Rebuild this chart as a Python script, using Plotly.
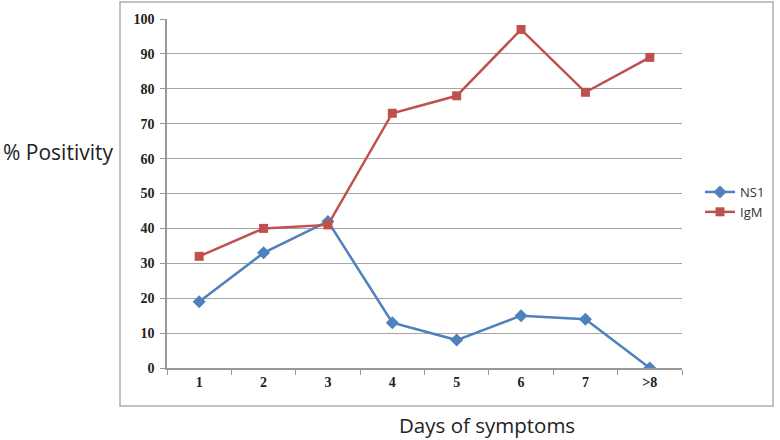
import plotly.graph_objects as go

days = ["1", "2", "3", "4", "5", "6", "7", ">8"]
ns1 = [19, 33, 42, 13, 8, 15, 14, 0]
igm = [32, 40, 41, 73, 78, 97, 79, 89]
y_ticks = [0, 10, 20, 30, 40, 50, 60, 70, 80, 90, 100]

L, R, T, B = 167, 682, 19, 368
W, H = 780, 440
pw, ph = R - L, B - T

def px(x):
    return (x - L) / pw

def py(y):
    return (B - y) / ph

fig = go.Figure()
fig.add_trace(go.Scatter(
    x=days, y=ns1, name="NS1", mode="lines+markers",
    line=dict(color="#4F81BD", width=2.5),
    marker=dict(symbol="diamond", size=10, color="#4F81BD"),
))
fig.add_trace(go.Scatter(
    x=days, y=igm, name="IgM", mode="lines+markers",
    line=dict(color="#C0504D", width=2.5),
    marker=dict(symbol="square", size=9, color="#C0504D"),
))

tick_font = dict(family="Liberation Serif", size=14, color="#222", weight="bold")

fig.update_layout(
    width=W, height=H,
    margin=dict(l=L, r=W - R, t=T, b=H - B, autoexpand=False),
    paper_bgcolor="white", plot_bgcolor="white",
    showlegend=True,
    legend=dict(x=px(700), y=py(177), xanchor="left", yanchor="top",
                font=dict(family="Open Sans", size=13, color="#333"),
                bgcolor="rgba(0,0,0,0)", itemwidth=30, tracegroupgap=2),
    xaxis=dict(type="category", range=[-0.5, 7.5], tickson="boundaries",
               ticks="outside", ticklen=5, tickcolor="#999",
               showline=True, linecolor="#999", linewidth=1.5,
               showgrid=False, zeroline=False, automargin=False,
               tickfont=tick_font),
    yaxis=dict(range=[0, 100], tickvals=y_ticks, ticks="outside", ticklen=5,
               tickcolor="#999", showline=True, linecolor="#999", linewidth=1.5,
               showgrid=True, gridcolor="#a6a6a6", gridwidth=1.2, zeroline=False,
               automargin=False, tickfont=tick_font, ticklabelstandoff=3),
)

# axis titles placed as in the reference
fig.add_annotation(text="% Positivity", xref="paper", yref="paper",
                   x=px(1), y=py(152), xanchor="left", yanchor="middle",
                   showarrow=False,
                   font=dict(family="Open Sans", size=21, color="#222"))
fig.add_annotation(text="Days of symptoms", xref="paper", yref="paper",
                   x=px(487), y=py(425), xanchor="center", yanchor="middle",
                   showarrow=False,
                   font=dict(family="Open Sans", size=20.5, color="#222"))

# outer chart frame
fig.add_shape(type="rect", xref="paper", yref="paper",
              x0=px(120), x1=px(773), y0=py(406), y1=py(2),
              line=dict(color="#b0b0b0", width=1.5), layer="below")

fig.write_html("out.html", config={"displayModeBar": False},
               post_script="document.body.style.margin='0';document.body.style.padding='0';")
